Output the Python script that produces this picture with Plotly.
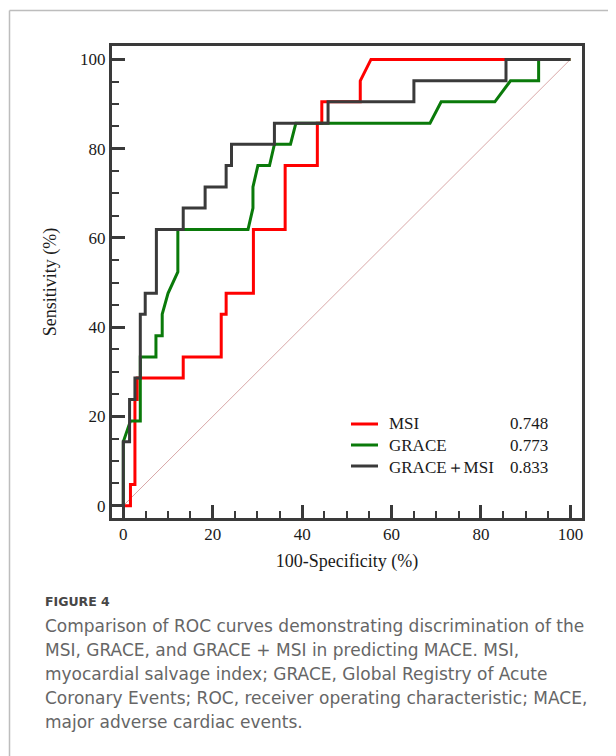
import plotly.graph_objects as go

# ---- data ----
msi_fpr = [0, 1.6, 1.6, 2.6, 2.6, 3.1, 3.1, 13.4, 13.4, 21.9, 21.9, 23.0, 23.0, 29.1, 29.1,
           36.2, 36.2, 43.4, 43.4, 44.4, 44.4, 53.0, 53.0, 55.4, 100]
msi_tpr = [0, 0, 4.76, 4.76, 23.8, 23.8, 28.6, 28.6, 33.3, 33.3, 42.9, 42.9, 47.6, 47.6, 61.9,
           61.9, 76.2, 76.2, 85.7, 85.7, 90.5, 90.5, 95.2, 100, 100]

grace_fpr = [0, 0, 1.6, 3.8, 3.8, 7.3, 7.3, 8.7, 8.7, 10.0, 12.2, 12.2, 27.9, 29.0, 29.0, 30.1,
             32.7, 33.8, 37.4, 38.6, 68.6, 71.1, 83.1, 86.6, 92.9, 92.9, 100]
grace_tpr = [0, 14.3, 19.0, 19.0, 33.3, 33.3, 38.1, 38.1, 42.9, 47.6, 52.4, 61.9, 61.9, 66.7, 71.4,
             76.2, 76.2, 81.0, 81.0, 85.7, 85.7, 90.5, 90.5, 95.2, 95.2, 100, 100]

comb_fpr = [0, 0, 1.4, 1.4, 2.6, 2.6, 3.8, 3.8, 4.9, 4.9, 7.4, 7.4, 13.4, 13.4, 18.3, 18.3,
            23.0, 23.0, 24.2, 24.2, 33.8, 33.8, 45.8, 45.8, 65.0, 65.0, 85.6, 85.6, 100]
comb_tpr = [0, 14.3, 14.3, 23.8, 23.8, 28.6, 28.6, 42.9, 42.9, 47.6, 47.6, 61.9, 61.9, 66.7, 66.7,
            71.4, 71.4, 76.2, 76.2, 81.0, 81.0, 85.7, 85.7, 90.5, 90.5, 95.2, 95.2, 100, 100]

ref_x = [0, 100]
ref_y = [0, 100]

series_names = ["MSI", "GRACE", "GRACE\uff0bMSI"]
auc_labels = ["0.748", "0.773", "0.833"]
tick_vals = [0, 20, 40, 60, 80, 100]

caption_title = "FIGURE 4"
caption_lines = [
    "Comparison of ROC curves demonstrating discrimination of the",
    "MSI, GRACE, and GRACE + MSI in predicting MACE. MSI,",
    "myocardial salvage index; GRACE, Global Registry of Acute",
    "Coronary Events; ROC, receiver operating characteristic; MACE,",
    "major adverse cardiac events.",
]

# ---- styles / layout (figure pixels; page has an 8px body margin) ----
SERIF = "Liberation Serif, Times New Roman, serif"
SANS = "DejaVu Sans, Open Sans, sans-serif"
AXC = "#3a3a3a"
TXT = "#1a1a1a"
colors = ["#ff0000", "#0a7a0a", "#3a3a3a"]

W, H = 608, 748
ML, MR, MT, MB = 104, 34, 38, 238
PW, PH = W - ML - MR, H - MT - MB


def px_x(p):
    return (p - ML) / PW


def px_y(p):
    return (H - MB - p) / PH


fig = go.Figure()

fig.add_trace(go.Scatter(x=ref_x, y=ref_y, mode="lines", showlegend=False,
                         line=dict(color="#d9a8a8", width=1), hoverinfo="skip"))

for fx, ty, name, col in zip([msi_fpr, grace_fpr, comb_fpr], [msi_tpr, grace_tpr, comb_tpr],
                             series_names, colors):
    fig.add_trace(go.Scatter(x=fx, y=ty, mode="lines", name=name, showlegend=False,
                             line=dict(color=col, width=3)))

axis_common = dict(
    showline=True, linewidth=3, linecolor=AXC, mirror=True,
    ticks="inside", ticklen=13, tickwidth=2.5, tickcolor=AXC,
    minor=dict(dtick=5, ticklen=7, tickwidth=2, tickcolor=AXC, ticks="inside"),
    tickvals=tick_vals, showgrid=False, zeroline=False,
    tickfont=dict(family=SERIF, size=17, color=TXT),
)

fig.update_xaxes(range=[-2.53, 102.6], ticklabelstandoff=-1, **axis_common,
                 title=dict(text="100-Specificity (%)", font=dict(family=SERIF, size=18, color=TXT),
                            standoff=11))
fig.update_yaxes(range=[-2.76, 103.0], ticklabelstandoff=0, **axis_common,
                 title=dict(text="Sensitivity (%)", font=dict(family=SERIF, size=18, color=TXT),
                            standoff=19))

# ---- legend (manual, to match the reference row spacing) ----
leg_rows = [416, 437, 458]
shapes = []
for col, ry in zip(colors, leg_rows):
    shapes.append(dict(type="line", xref="paper", yref="paper", x0=px_x(343), x1=px_x(370),
                       y0=px_y(ry), y1=px_y(ry), line=dict(color=col, width=3)))

annotations = [
    dict(x=px_x(379), y=px_y(leg_rows[1]), xref="paper", yref="paper",
         text="<br>".join(series_names), showarrow=False, xanchor="left", yanchor="middle",
         align="left", font=dict(family=SERIF, size=17, color=TXT)),
    dict(x=px_x(500), y=px_y(leg_rows[1]), xref="paper", yref="paper",
         text="<br>".join(auc_labels), showarrow=False, xanchor="left", yanchor="middle",
         align="left", font=dict(family=SERIF, size=17, color=TXT)),
]

# ---- caption ----
annotations.append(dict(x=px_x(35), y=px_y(593), xref="paper", yref="paper", text=caption_title,
                        showarrow=False, xanchor="left", yanchor="middle",
                        font=dict(family="DejaVu Sans, sans-serif", size=12.5, color="#474747",
                                  weight="bold")))
cap_centres = [618, 642, 666, 690, 714]
for line, cy in zip(caption_lines, cap_centres):
    annotations.append(dict(x=px_x(35), y=px_y(cy), xref="paper", yref="paper", text=line,
                            showarrow=False, xanchor="left", yanchor="middle",
                            font=dict(family=SANS, size=17, color="#666666")))

# card border (left and top)
shapes += [
    dict(type="line", xref="paper", yref="paper", x0=px_x(1.5), x1=px_x(1.5),
         y0=px_y(2.5), y1=px_y(H + 5), line=dict(color="#bdbdbd", width=1.5)),
    dict(type="line", xref="paper", yref="paper", x0=px_x(1.5), x1=px_x(W + 5),
         y0=px_y(2.5), y1=px_y(2.5), line=dict(color="#bdbdbd", width=1.5)),
]

fig.update_layout(
    width=W, height=H,
    margin=dict(l=ML, r=MR, t=MT, b=MB),
    paper_bgcolor="white", plot_bgcolor="white",
    showlegend=False,
    annotations=annotations,
    shapes=shapes,
)

fig.write_html("out.html")
